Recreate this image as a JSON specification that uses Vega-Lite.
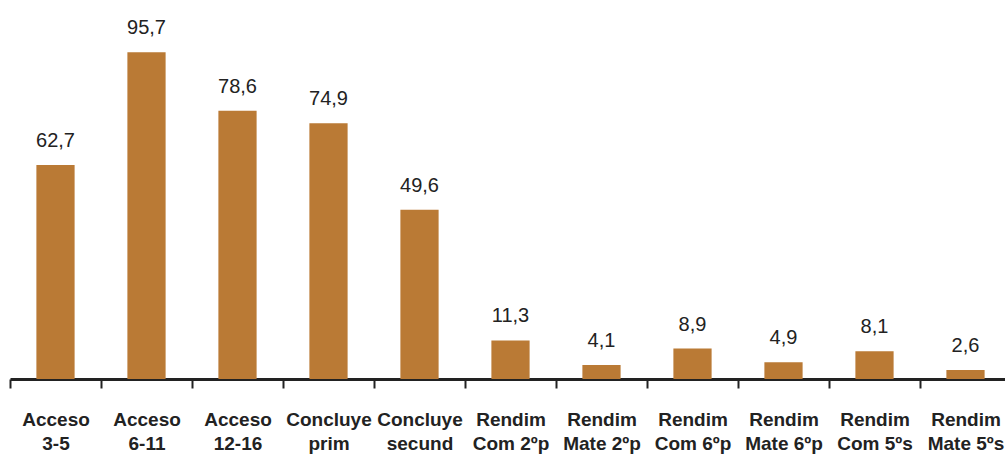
{
  "$schema": "https://vega.github.io/schema/vega-lite/v6.json",
  "width": 1001,
  "height": 379,
  "autosize": {"type": "none"},
  "padding": {"left": 10, "top": 0, "right": 0, "bottom": 80},
  "background": "white",
  "config": {
    "view": {"stroke": null},
    "locale": {"number": {"decimal": ",", "thousands": ".", "grouping": [3], "currency": ["", ""]}}
  },
  "data": {
    "values": [
      {"cat": "Acceso|3-5", "value": 62.7},
      {"cat": "Acceso|6-11", "value": 95.7},
      {"cat": "Acceso|12-16", "value": 78.6},
      {"cat": "Concluye|prim", "value": 74.9},
      {"cat": "Concluye|secund", "value": 49.6},
      {"cat": "Rendim|Com 2ºp", "value": 11.3},
      {"cat": "Rendim|Mate 2ºp", "value": 4.1},
      {"cat": "Rendim|Com 6ºp", "value": 8.9},
      {"cat": "Rendim|Mate 6ºp", "value": 4.9},
      {"cat": "Rendim|Com 5ºs", "value": 8.1},
      {"cat": "Rendim|Mate 5ºs", "value": 2.6}
    ]
  },
  "encoding": {
    "x": {
      "field": "cat",
      "type": "nominal",
      "sort": null,
      "scale": {"paddingInner": 0, "paddingOuter": 0},
      "axis": {
        "title": null,
        "labelAngle": 0,
        "labelExpr": "split(datum.label, '|')",
        "labelFont": "Liberation Sans",
        "labelFontWeight": "bold",
        "labelFontSize": 19,
        "labelLineHeight": 24,
        "labelColor": "#222222",
        "labelPadding": 22,
        "labelBaseline": "top",
        "tickBand": "extent",
        "tickSize": 9,
        "tickWidth": 2,
        "tickColor": "#222222",
        "domainColor": "#222222",
        "domainWidth": 3,
        "labelOverlap": false,
        "labelBound": false
      }
    },
    "y": {
      "field": "value",
      "type": "quantitative",
      "scale": {"domain": [0, 111]},
      "axis": null
    }
  },
  "layer": [
    {"mark": {"type": "bar", "color": "#BA7A35", "width": {"band": 0.42}}},
    {
      "mark": {"type": "text", "baseline": "alphabetic", "dy": -18, "font": "Liberation Sans", "fontSize": 20, "color": "#222222"},
      "encoding": {"text": {"field": "value", "type": "quantitative", "format": ".1f"}}
    }
  ]
}
